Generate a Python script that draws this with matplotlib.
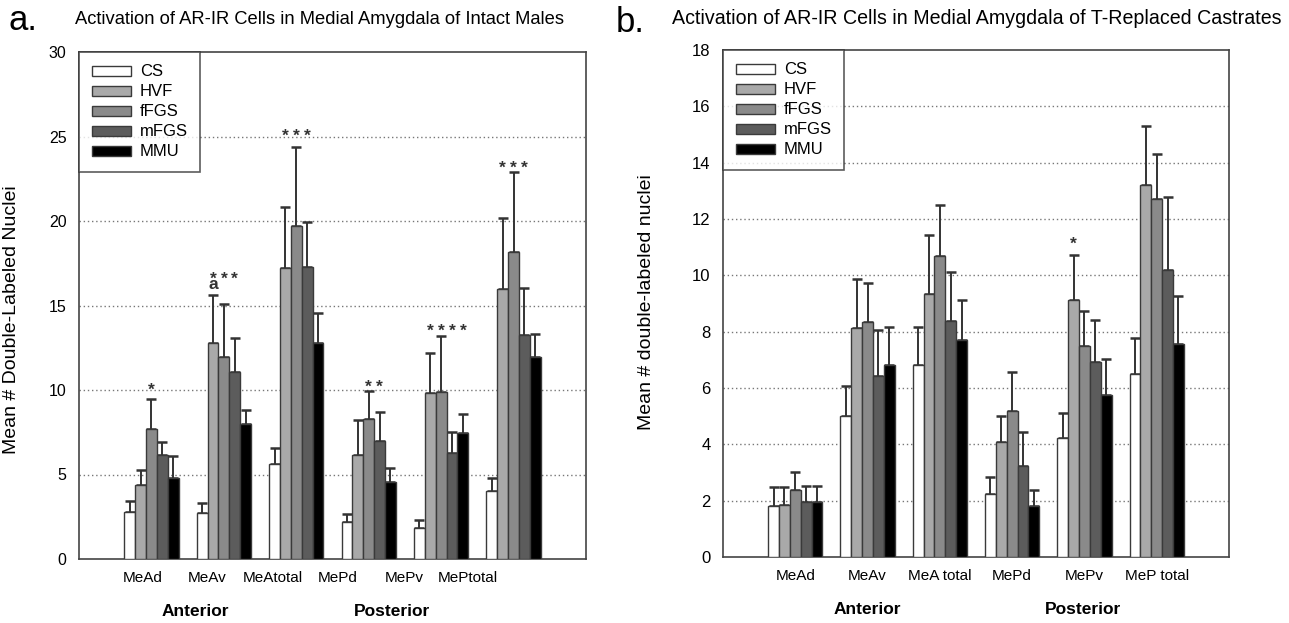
import matplotlib
matplotlib.use("Agg")
import matplotlib.pyplot as plt
import numpy as np
from matplotlib.transforms import blended_transform_factory

plt.rcParams['font.family'] = ['Liberation Sans', 'DejaVu Sans']

groups_a = ["MeAd", "MeAv", "MeAtotal", "MePd", "MePv", "MePtotal"]
groups_b = ["MeAd", "MeAv", "MeA total", "MePd", "MePv", "MeP total"]
series = ["CS", "HVF", "fFGS", "mFGS", "MMU"]
colors = ["#ffffff", "#a9a9a9", "#8a8a8a", "#5c5c5c", "#000000"]

# Panel a: means and error-bar tops (mean + SEM)
a_mean = {
    "CS":   [2.8, 2.75, 5.6, 2.2, 1.85, 4.05],
    "HVF":  [4.35, 12.8, 17.2, 6.15, 9.85, 15.95],
    "fFGS": [7.67, 11.95, 19.7, 8.27, 9.9, 18.15],
    "mFGS": [6.17, 11.05, 17.25, 7.0, 6.3, 13.25],
    "MMU":  [4.78, 7.98, 12.8, 4.53, 7.44, 11.95],
}
a_top = {
    "CS":   [3.45, 3.32, 6.56, 2.66, 2.32, 4.78],
    "HVF":  [5.24, 15.65, 20.85, 8.23, 12.2, 20.2],
    "fFGS": [9.45, 15.08, 24.4, 9.94, 13.2, 22.9],
    "mFGS": [6.92, 13.1, 19.92, 8.68, 7.54, 16.04],
    "MMU":  [6.07, 8.79, 14.57, 5.41, 8.58, 13.29],
}
# Panel b
b_mean = {
    "CS":   [1.82, 4.99, 6.8, 2.25, 4.23, 6.5],
    "HVF":  [1.83, 8.12, 9.35, 4.07, 9.13, 13.19],
    "fFGS": [2.37, 8.33, 10.7, 5.17, 7.5, 12.72],
    "mFGS": [1.94, 6.44, 8.39, 3.23, 6.94, 10.2],
    "MMU":  [1.94, 6.82, 7.69, 1.8, 5.74, 7.56],
}
b_top = {
    "CS":   [2.47, 6.06, 8.17, 2.83, 5.1, 7.77],
    "HVF":  [2.49, 9.87, 11.44, 5.02, 10.71, 15.3],
    "fFGS": [3.03, 9.73, 12.5, 6.56, 8.74, 14.29],
    "mFGS": [2.53, 8.07, 10.12, 4.45, 8.42, 12.79],
    "MMU":  [2.51, 8.15, 9.12, 2.37, 7.02, 9.25],
}

# significance marks: (group index, series indices, y of star centre)
a_stars = [(0, [2], 10.3), (1, [1, 2, 3], 16.85), (2, [1, 2, 3], 25.3),
           (3, [2, 3], 10.5), (4, [1, 2, 3, 4], 13.8), (5, [1, 2, 3], 23.4)]
# extra letter written under a star: (group, series index, letter)
a_letters = [(1, 1, "a")]
b_stars = [(4, [1], 11.3)]

a_tick_pos = [-0.12, 0.77, 1.67, 2.57, 3.49, 4.37]
b_tick_pos = [0, 1, 2, 3, 4, 5]

fig = plt.figure(figsize=(12.89, 6.23), dpi=100)
ax_a = fig.add_axes([79/1289, (623-559)/623, (586-79)/1289, 507/623])
ax_b = fig.add_axes([723/1289, (623-557)/623, (1229-723)/1289, 507/623])

bw = 0.15
edge = "#3a3a3a"
star_fs = 12.5


def draw(ax, mean, top, ymax, ystep, stars, letters, tick_pos, tick_labels,
         ylabel, ylabel_xy, ytick_size, anterior_x, posterior_x):
    x = np.arange(6)
    for i, s in enumerate(series):
        xs = x + (i - 2) * bw
        m = np.array(mean[s])
        t = np.array(top[s])
        ax.bar(xs, m, width=bw, color=colors[i], edgecolor=edge, linewidth=1.0,
               zorder=3, label=s)
        ax.errorbar(xs, m, yerr=[np.zeros_like(m), t - m], fmt='none',
                    ecolor="#333333", elinewidth=1.4, capsize=3.6,
                    capthick=1.8, zorder=2)
    letter_map = {(g, i): txt for g, i, txt in letters}
    for g, idxs, yc in stars:
        for i in idxs:
            xpos = g + (i - 2) * bw
            if (g, i) in letter_map:
                ax.annotate("*\n" + letter_map[(g, i)], (xpos, yc),
                            xytext=(0, 1.95), textcoords="offset points",
                            ha="center", va="top", multialignment="center",
                            linespacing=0.19, fontsize=star_fs,
                            fontweight="bold", color="#333333")
            else:
                ax.annotate("*", (xpos, yc), xytext=(0, -0.56 * star_fs),
                            textcoords="offset points", ha="center",
                            va="baseline", fontsize=star_fs,
                            fontweight="bold", color="#333333")
    ax.set_xlim(-1, 6)
    ax.set_ylim(0, ymax)
    ax.set_yticks(np.arange(0, ymax + 0.1, ystep))
    ax.tick_params(axis='y', length=0, pad=9, labelsize=ytick_size)
    ax.set_xticks(tick_pos, tick_labels)
    ax.tick_params(axis='x', length=0, pad=9, labelsize=11)
    for v in np.arange(ystep, ymax, ystep):
        ax.axhline(v, color="#777777", linestyle=(0, (1, 2)), linewidth=1.0,
                   zorder=1)
    for sp in ax.spines.values():
        sp.set_color("#444444")
        sp.set_linewidth(1.2)
    ax.set_ylabel(ylabel, fontsize=14)
    ax.yaxis.set_label_coords(*ylabel_xy)
    leg = ax.legend(loc="upper left", bbox_to_anchor=(0, 1), fontsize=12,
                    frameon=True, fancybox=False, borderaxespad=0,
                    handlelength=2.35, handleheight=0.55, handletextpad=0.55,
                    labelspacing=0.3, borderpad=0.75)
    leg.get_frame().set_edgecolor("#333333")
    leg.get_frame().set_linewidth(1.2)
    trans = blended_transform_factory(ax.transData, ax.transAxes)
    ax.text(anterior_x, -0.104, "Anterior", transform=trans, ha="center",
            va="center", fontsize=12.5, fontweight="bold")
    ax.text(posterior_x, -0.104, "Posterior", transform=trans, ha="center",
            va="center", fontsize=12.5, fontweight="bold")


draw(ax_a, a_mean, a_top, 30, 5, a_stars, a_letters, a_tick_pos, groups_a,
     "Mean # Double-Labeled Nuclei", (-0.116, 0.473), 11.5, 0.6, 3.32)
draw(ax_b, b_mean, b_top, 18, 2, b_stars, [], b_tick_pos, groups_b,
     "Mean # double-labeled nuclei", (-0.134, 0.502), 12, 1.0, 3.98)

title_font = ['Liberation Sans', 'DejaVu Sans']
fig.text(75/1289, 1 - 19/623,
         "Activation of AR-IR Cells in Medial Amygdala of Intact Males",
         ha="left", va="center", fontsize=13.2, family=title_font)
fig.text(672/1289, 1 - 19/623,
         "Activation of AR-IR Cells in Medial Amygdala of T-Replaced Castrates",
         ha="left", va="center", fontsize=14.1, family=title_font)
fig.text(8/1289, 1 - 20/623, "a.", ha="left", va="center", fontsize=25)
fig.text(616/1289, 1 - 22/623, "b.", ha="left", va="center", fontsize=25)

fig.savefig("out.png", dpi=100)
